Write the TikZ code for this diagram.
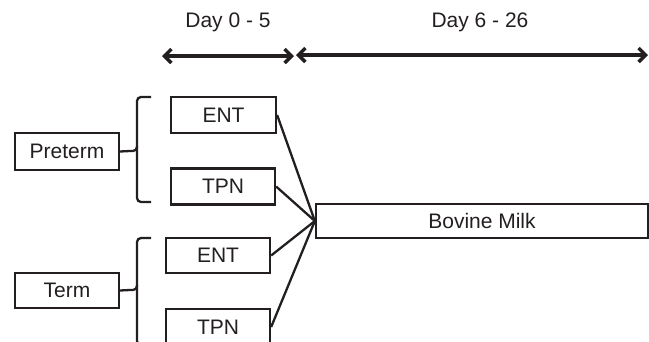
\documentclass[tikz,border=0pt]{standalone}
\usepackage{fontspec}
\setmainfont{Liberation Sans}
\usetikzlibrary{arrows.meta}
\definecolor{ink}{HTML}{231F20}
\begin{document}
\begin{tikzpicture}[x=1pt,y=-1pt,
  box/.style={draw=ink,line width=2.3pt,minimum height=36pt,inner sep=0pt,text=ink,font=\fontsize{21}{25}\selectfont},
  lbl/.style={text=ink,font=\fontsize{21}{25}\selectfont,inner sep=0pt},
  link/.style={draw=ink,line width=2.3pt},
  period/.style={draw=ink,line width=3.5pt,{Straight Barb[length=7pt,width=14pt]}-{Straight Barb[length=7pt,width=14pt]}},
  bracepath/.style={draw=ink,line width=2.3pt,rounded corners=4pt}]
\useasboundingbox (0,0) rectangle (649,341);
% period arrows
\coordinate (a1) at (162,56);
\coordinate (a2) at (294,56);
\coordinate (b1) at (296,55);
\coordinate (b2) at (648,55);
\draw[period] (a1) -- (a2);
\draw[period] (b1) -- (b2);
\node[lbl] (d1) at (228,22) {Day 0 - 5};
\node[lbl] (d2) at (480,22) {Day 6 - 26};
% boxes
\node[box,minimum width=105pt] (pent) at (223.5,115) {ENT};
\node[box,minimum width=104pt] (ptpn) at (223,186.5) {TPN};
\node[box,minimum width=104pt,minimum height=35pt] (tent) at (218,255.5) {ENT};
\node[box,minimum width=104pt] (ttpn) at (218,327) {TPN};
\node[box,minimum width=104pt,minimum height=37pt] (pre) at (67,151.5) {Preterm};
\node[box,minimum width=104pt,minimum height=35pt] (term) at (67,290.5) {Term};
\node[box,minimum width=332pt,minimum height=34pt] (milk) at (482,221) {Bovine Milk};
% braces
\coordinate (pt) at (130,151);
\coordinate (tt) at (130,290);
\draw[bracepath] (151,97) -- (137,97) -- (137,151) -- (pt) ;
\draw[bracepath] (137,146) -- (137,202) -- (151,202);
\draw[link] (pre.east) -- (pt);
\draw[bracepath] (151,238) -- (137,238) -- (137,290) -- (tt);
\draw[bracepath] (137,285) -- (137,345) -- (151,345);
\draw[link] (term.east) -- (tt);
% connectors
\draw[link] (pent.east) -- (milk.west);
\draw[link] (ptpn.east) -- (milk.west);
\draw[link] (tent.east) -- (milk.west);
\draw[link] (ttpn.east) -- (milk.west);
\end{tikzpicture}
\end{document}
